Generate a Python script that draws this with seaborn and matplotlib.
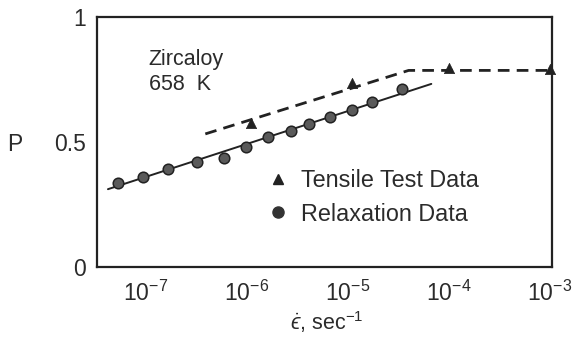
import matplotlib
matplotlib.use("Agg")
import matplotlib.pyplot as plt
from matplotlib.lines import Line2D
import seaborn as sns
import pandas as pd

# ---- data ----
relax_rate = [5.4e-8, 9.5e-8, 1.65e-7, 3.25e-7, 5.95e-7, 9.9e-7, 1.62e-6,
              2.75e-6, 4.1e-6, 6.7e-6, 1.1e-5, 1.72e-5, 3.4e-5]
relax_p = [0.335, 0.357, 0.391, 0.420, 0.436, 0.478, 0.518,
           0.544, 0.570, 0.599, 0.628, 0.659, 0.709]

tensile_rate = [1.1e-6, 1.1e-5, 1.0e-4, 1.0e-3]
tensile_p = [0.574, 0.733, 0.795, 0.790]

fit_rate = [4.25e-8, 6.7e-5]
fit_p = [0.310, 0.731]

dash_rate = [3.9e-7, 4.0e-5, 1.0e-3]
dash_p = [0.531, 0.785, 0.785]

xticks = [1e-7, 1e-6, 1e-5, 1e-4, 1e-3]
xticklabels = [r"$10^{-7}$", r"$10^{-6}$", r"$10^{-5}$", r"$10^{-4}$", r"$10^{-3}$"]
yticks = [0, 0.5, 1]
yticklabels = ["0", "0.5", "1"]

sns.set_style("white")
plt.rcParams["font.family"] = ["Liberation Sans", "DejaVu Sans"]
plt.rcParams["mathtext.fontset"] = "custom"
plt.rcParams["mathtext.rm"] = "Liberation Sans"
plt.rcParams["mathtext.it"] = "Liberation Sans:italic"
plt.rcParams["mathtext.bf"] = "Liberation Sans:bold"
plt.rcParams["mathtext.fallback"] = "stixsans"

INK = "#222222"
TXT = "#2b2b2b"

fig = plt.figure(figsize=(5.76, 3.37), dpi=100)
ax = fig.add_axes([0.1684, 0.2086, 0.790, 0.742])

relax_df = pd.DataFrame({"rate": relax_rate, "P": relax_p})
tens_df = pd.DataFrame({"rate": tensile_rate, "P": tensile_p})
fit_df = pd.DataFrame({"rate": fit_rate, "P": fit_p})
dash_df = pd.DataFrame({"rate": dash_rate, "P": dash_p})

sns.lineplot(data=fit_df, x="rate", y="P", ax=ax, color=INK, lw=1.4,
             estimator=None, sort=False)
sns.lineplot(data=dash_df, x="rate", y="P", ax=ax, color=INK, lw=2.0,
             estimator=None, sort=False, dashes=False)
ax.lines[-1].set_linestyle((0, (4.2, 2.6)))
sns.scatterplot(data=relax_df, x="rate", y="P", ax=ax, marker="o", s=58,
                color="#5a5a5a", edgecolor="#222222", linewidth=1.1, zorder=3)
sns.scatterplot(data=tens_df, x="rate", y="P", ax=ax, marker="^", s=55,
                color=INK, edgecolor=INK, linewidth=0.5, zorder=3, clip_on=False)

ax.set_xscale("log")
ax.set_xlim(10 ** -7.48, 10 ** -2.98)
ax.set_ylim(0, 1)
ax.set_xticks(xticks)
ax.set_xticklabels(xticklabels)
ax.set_yticks(yticks)
ax.set_yticklabels(yticklabels)
ax.minorticks_off()
ax.tick_params(axis="x", direction="in", length=7.5, width=1.3, color=INK,
               labelsize=16.5, labelcolor=TXT, pad=10)
ax.tick_params(axis="y", direction="in", length=6.5, width=1.3, color=INK,
               labelsize=16.5, labelcolor=TXT, pad=8)

for sp in ax.spines.values():
    sp.set_visible(True)
    sp.set_color(INK)
    sp.set_linewidth(1.6)

ax.set_xlabel("$\\dot{\u03f5}$, sec$^{-1}$", fontsize=15.5, color=TXT, va="top")
ax.xaxis.set_label_coords(0.505, -0.168)
ax.set_ylabel("P", fontsize=16.5, color=TXT, rotation=0, va="center", ha="center")
ax.yaxis.set_label_coords(-0.181, 0.49)

ax.text(0.114, 0.872, "Zircaloy\n658  K", transform=ax.transAxes,
        fontsize=15.5, color=TXT, va="top", ha="left", linespacing=1.3)

handles = [
    Line2D([], [], ls="none", marker="^", markersize=7, color=INK),
    Line2D([], [], ls="none", marker="o", markersize=8, color="#333333"),
]
leg = ax.legend(handles, ["Tensile Test Data", "Relaxation Data"],
                loc="upper left", bbox_to_anchor=(0.374, 0.391),
                frameon=False, fontsize=16.8, handlelength=0.93,
                handletextpad=0.5, borderpad=0, borderaxespad=0,
                labelspacing=0.46)
for t in leg.get_texts():
    t.set_color(TXT)

fig.savefig("out.png", dpi=100)
